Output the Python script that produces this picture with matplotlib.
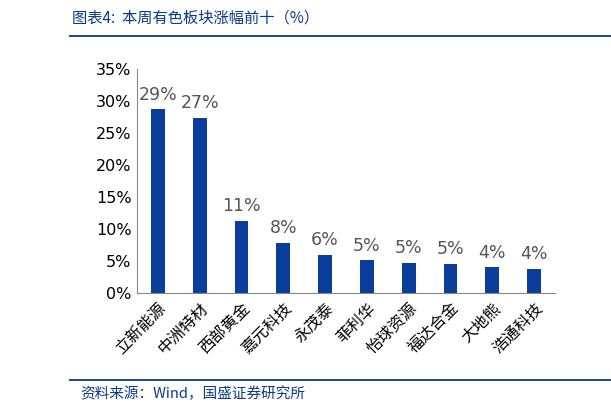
import matplotlib
matplotlib.use("Agg")
import matplotlib.pyplot as plt

plt.rcParams['font.family'] = ['Noto Sans CJK SC', 'DejaVu Sans']

categories = ["立新能源", "中洲特材", "西部黄金", "嘉元科技", "永茂泰", "菲利华", "怡球资源", "福达合金", "大地熊", "浩通科技"]
values = [28.7, 27.4, 11.3, 7.8, 5.9, 5.1, 4.7, 4.6, 4.0, 3.8]
labels = ["29%", "27%", "11%", "8%", "6%", "5%", "5%", "5%", "4%", "4%"]
yticks = [0, 5, 10, 15, 20, 25, 30, 35]

W, H = 611, 413
fig = plt.figure(figsize=(W/100, H/100), dpi=100)
blue = "#0A3A8C"
ax = fig.add_axes([137/W, 1-293/H, (555-137)/W, (293-69)/H])
x = range(len(categories))
ax.bar(x, values, width=0.33, color="#0B3E9A")
for i, (v, l) in enumerate(zip(values, labels)):
    ax.text(i, v + 0.9, l, ha="center", va="bottom", fontsize=12.5, color="#555555", family="DejaVu Sans")
ax.set_ylim(0, 35)
ax.set_xlim(-0.5, len(categories) - 0.5)
ax.set_yticks(yticks)
ax.set_yticklabels([f"{t}%" for t in yticks], fontsize=11.5, family="DejaVu Sans")
ax.set_xticks(list(x))
ax.set_xticklabels(categories, rotation=45, ha="right", rotation_mode="anchor", fontsize=11.5)
for s in ["top", "right"]:
    ax.spines[s].set_visible(False)
ax.spines["left"].set_color("#888888")
ax.spines["bottom"].set_color("#888888")
ax.tick_params(axis="y", length=0, pad=4)
ax.tick_params(axis="x", length=0, pad=5)

fig.text(72/W, 1-18/H, "图表4:  本周有色板块涨幅前十（%）", fontsize=11, color=blue, style="italic", va="center")
fig.add_artist(plt.Line2D([70/W, 611/W], [1-36/H, 1-36/H], color=blue, lw=1.3))
fig.add_artist(plt.Line2D([70/W, 611/W], [1-380/H, 1-380/H], color=blue, lw=1.3))
fig.text(80/W, 1-394/H, "资料来源：Wind，国盛证券研究所", fontsize=10.5, color=blue, style="italic", va="center")
fig.savefig("out.png", dpi=100)
